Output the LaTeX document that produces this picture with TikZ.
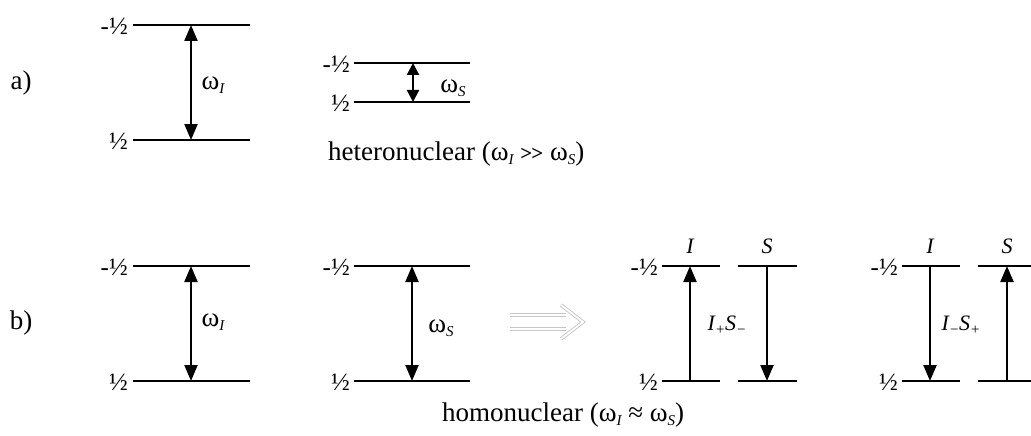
\documentclass[tikz,border=0pt]{standalone}
\usepackage{fontspec}
\setmainfont{Liberation Serif}
\usetikzlibrary{arrows.meta}
\newcommand{\lowsub}[1]{\raisebox{-0.35ex}{\fontsize{15}{15}\selectfont\itshape #1}}
\newcommand{\muchgt}{{\fontsize{21}{21}\selectfont\bfseries >\kern-1pt>}}
\begin{document}
\begin{tikzpicture}[x=1pt,y=-1pt,
  level/.style={line width=2.8pt},
  trans/.style={line width=2.2pt,-{Triangle[length=16pt,width=13pt]}},
  both/.style={line width=2.2pt,{Triangle[length=16pt,width=13pt]}-{Triangle[length=16pt,width=13pt]}},
  shortboth/.style={line width=2.2pt,{Triangle[length=12pt,width=12pt]}-{Triangle[length=12pt,width=12pt]}},
  hollow/.style={gray!45,line width=0.9pt,double=white,double distance=1.8pt,line join=miter},
  spin/.style={anchor=east,font=\fontsize{25}{25}\selectfont,inner sep=0pt},
  part/.style={font=\fontsize{27}{27}\selectfont,inner sep=0pt},
  freq/.style={font=\fontsize{27}{27}\selectfont,inner sep=0pt},
  nuc/.style={font=\fontsize{22}{22}\selectfont\itshape,inner sep=0pt},
  caption/.style={font=\fontsize{27}{27}\selectfont,inner sep=0pt,anchor=base west}]
\useasboundingbox (0,0) rectangle (1031,436);
\clip (0,0) rectangle (1031,436);

% ---------- a) ----------
\node[part] (pa) at (21,83) {a)};
% diagram a1
\coordinate (a1tl) at (133,25);  \coordinate (a1tr) at (250,25);
\coordinate (a1bl) at (133,140); \coordinate (a1br) at (250,140);
\draw[level] (a1tl) -- (a1tr);
\draw[level] (a1bl) -- (a1br);
\coordinate (a1t) at (191,25); \coordinate (a1b) at (191,140);
\draw[both] (a1t) -- (a1b);
\node[spin] (a1m) at (128,26) {-½};
\node[spin] (a1p) at (128,141) {½};
\node[freq] (a1w) at (213,85) {ω\lowsub{I}};
% diagram a2
\coordinate (a2tl) at (354,63);  \coordinate (a2tr) at (470,63);
\coordinate (a2bl) at (354,102); \coordinate (a2br) at (470,102);
\draw[level] (a2tl) -- (a2tr);
\draw[level] (a2bl) -- (a2br);
\coordinate (a2t) at (413,63); \coordinate (a2b) at (413,102);
\draw[shortboth] (a2t) -- (a2b);
\node[spin] (a2m) at (350,64) {-½};
\node[spin] (a2p) at (350,103) {½};
\node[freq] (a2w) at (453,88) {ω\lowsub{S}};
\node[caption] (het) at (328,160) {heteronuclear (ω\lowsub{I} \muchgt{} ω\lowsub{S})};

% ---------- b) ----------
\node[part] (pb) at (21,323) {b)};
% diagram b1
\coordinate (b1tl) at (133,266);  \coordinate (b1tr) at (250,266);
\coordinate (b1bl) at (133,381);  \coordinate (b1br) at (250,381);
\draw[level] (b1tl) -- (b1tr);
\draw[level] (b1bl) -- (b1br);
\coordinate (b1t) at (191,266); \coordinate (b1b) at (191,381);
\draw[both] (b1t) -- (b1b);
\node[spin] (b1m) at (128,267) {-½};
\node[spin] (b1p) at (128,382) {½};
\node[freq] (b1w) at (213,322) {ω\lowsub{I}};
% diagram b2
\coordinate (b2tl) at (354,266);  \coordinate (b2tr) at (470,266);
\coordinate (b2bl) at (354,381);  \coordinate (b2br) at (470,381);
\draw[level] (b2tl) -- (b2tr);
\draw[level] (b2bl) -- (b2br);
\coordinate (b2t) at (412,266); \coordinate (b2b) at (412,381);
\draw[both] (b2t) -- (b2b);
\node[spin] (b2m) at (350,267) {-½};
\node[spin] (b2p) at (350,382) {½};
\node[freq] (b2w) at (441,328) {ω\lowsub{S}};
% hollow double arrow
\coordinate (impT1) at (510,315); \coordinate (impT2) at (566,315);
\coordinate (impB1) at (510,329); \coordinate (impB2) at (566,329);
\coordinate (impU) at (561,305); \coordinate (impTip) at (583,322); \coordinate (impD) at (561,339);
\draw[hollow] (impT1) -- (impT2);
\draw[hollow] (impB1) -- (impB2);
\draw[hollow] (impU) -- (impTip) -- (impD);
% diagram b3
\coordinate (b3Itl) at (662,266); \coordinate (b3Itr) at (720,266);
\coordinate (b3Ibl) at (662,381); \coordinate (b3Ibr) at (720,381);
\coordinate (b3Stl) at (738,266); \coordinate (b3Str) at (797,266);
\coordinate (b3Sbl) at (738,381); \coordinate (b3Sbr) at (797,381);
\draw[level] (b3Itl) -- (b3Itr);
\draw[level] (b3Ibl) -- (b3Ibr);
\draw[level] (b3Stl) -- (b3Str);
\draw[level] (b3Sbl) -- (b3Sbr);
\coordinate (b3It) at (690,266); \coordinate (b3Ib) at (690,381);
\coordinate (b3St) at (767,266); \coordinate (b3Sb) at (767,381);
\draw[trans] (b3Ib) -- (b3It);
\draw[trans] (b3St) -- (b3Sb);
\node[spin] (b3m) at (658,267) {-½};
\node[spin] (b3p) at (658,382) {½};
\node[nuc] (b3I) at (690,246) {I};
\node[nuc] (b3S) at (767,246) {S};
\node[nuc] (b3op) at (727,325) {I\lowsub{+}S\lowsub{−}};
% diagram b4
\coordinate (b4Itl) at (902,266); \coordinate (b4Itr) at (960,266);
\coordinate (b4Ibl) at (902,381); \coordinate (b4Ibr) at (960,381);
\coordinate (b4Stl) at (978,266); \coordinate (b4Str) at (1040,266);
\coordinate (b4Sbl) at (978,381); \coordinate (b4Sbr) at (1040,381);
\draw[level] (b4Itl) -- (b4Itr);
\draw[level] (b4Ibl) -- (b4Ibr);
\draw[level] (b4Stl) -- (b4Str);
\draw[level] (b4Sbl) -- (b4Sbr);
\coordinate (b4It) at (930,266); \coordinate (b4Ib) at (930,381);
\coordinate (b4St) at (1007,266); \coordinate (b4Sb) at (1007,381);
\draw[trans] (b4It) -- (b4Ib);
\draw[trans] (b4Sb) -- (b4St);
\node[spin] (b4m) at (898,267) {-½};
\node[spin] (b4p) at (898,382) {½};
\node[nuc] (b4I) at (930,246) {I};
\node[nuc] (b4S) at (1007,246) {S};
\node[nuc] (b4op) at (961,325) {I\lowsub{−}S\lowsub{+}};
\node[caption] (hom) at (442,421) {homonuclear (ω\lowsub{I} ≈ ω\lowsub{S})};
\end{tikzpicture}
\end{document}
